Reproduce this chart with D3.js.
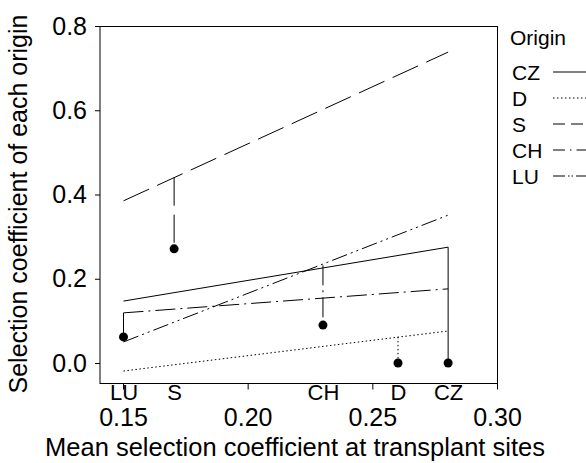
<!DOCTYPE html>
<html lang="en">
<head>
  <meta charset="UTF-8">
  <title>Selection coefficient by origin</title>
  <style>
    body {
      margin: 0;
      background: #fff;
    }
    svg {
      display: block;
      font-family: "Liberation Sans", Arial, sans-serif;
    }
    .axis text {
      font-size: 25px;
      fill: #000;
    }
    .axis.sites text {
      font-size: 22px;
    }
    .axis line {
      stroke: #000;
    }
    .legend text {
      font-size: 21px;
    }
  </style>
</head>
<body>
  <svg width="586" height="463"></svg>
  <script src="https://d3js.org/d3.v7.min.js"></script>
  <script>
    // transplant sites: mean selection coefficient (x) and value of the local origin (y)
    const sites = ["LU", "S", "CH", "D", "CZ"];
    const siteX = [0.1502, 0.1705, 0.2302, 0.2603, 0.2804];
    const siteY = [0.062, 0.271, 0.090, 0.0, 0.0];
    // top of the vertical segment drawn at each site
    const segTop = [0.119, 0.440, 0.232, 0.062, 0.275];
    const segOrigin = ["CZ", "S", "CH", "D", "CZ"];

    // regression lines per origin, value at first and last site
    const origins = ["CZ", "D", "S", "CH", "LU"];
    const lineStart = [0.147, -0.019, 0.385, 0.119, 0.050];
    const lineEnd = [0.275, 0.076, 0.738, 0.176, 0.351];

    const xTicks = [0.15, 0.20, 0.25, 0.30];
    const yTicks = [0.0, 0.2, 0.4, 0.6, 0.8];

    const dash = {
      CZ: null,
      D: "1.5,2.5",
      S: "28,9",
      CH: "20,5,2,5",
      LU: "16,4,2,4,2,4"
    };
    // the legend keys use shorter patterns than the plotted lines
    const legendDash = {
      CZ: null,
      D: "1.5,2.5",
      S: "12,6",
      CH: "12,5,1.5,5",
      LU: "12,3,1.5,2,1.5,3"
    };

    const svg = d3.select("svg");
    const box = { left: 100, right: 497, top: 26, bottom: 383 };

    const x = d3.scaleLinear().domain([0.15, 0.30]).range([123, 497]);
    const y = d3.scaleLinear().domain([0, 0.8]).range([363, 26]);

    // frame
    svg.append("rect")
      .attr("x", box.left)
      .attr("y", box.top + 0.5)
      .attr("width", box.right - box.left + 0.5)
      .attr("height", box.bottom - box.top)
      .attr("fill", "none")
      .attr("stroke", "#000");

    // y axis
    const yAxis = svg.append("g")
      .attr("class", "axis")
      .attr("transform", `translate(${box.left},0)`)
      .call(d3.axisLeft(y).tickValues(yTicks).tickFormat(d3.format(".1f")).tickSize(5).tickPadding(8));
    yAxis.select(".domain").remove();

    // x axis numbers
    const xAxis = svg.append("g")
      .attr("class", "axis")
      .attr("transform", `translate(0,${box.bottom + 0.5})`)
      .call(d3.axisBottom(x).tickValues(xTicks).tickFormat(d3.format(".2f")).tickSize(6).tickPadding(19));
    xAxis.select(".domain").remove();

    // site names under the axis
    const siteAxis = svg.append("g")
      .attr("class", "axis sites")
      .attr("transform", `translate(0,${box.bottom})`)
      .call(d3.axisBottom(x).tickValues(siteX).tickFormat((d, i) => sites[i]).tickSize(0).tickPadding(1));
    siteAxis.select(".domain").remove();

    // axis titles
    svg.append("text")
      .attr("x", 295)
      .attr("y", 456)
      .attr("text-anchor", "middle")
      .attr("font-size", 25.5)
      .text("Mean selection coefficient at transplant sites");

    svg.append("text")
      .attr("transform", "translate(27,204) rotate(-90)")
      .attr("text-anchor", "middle")
      .attr("font-size", 25)
      .text("Selection coefficient of each origin");

    // origin lines
    const x0 = siteX[0], x1 = siteX[siteX.length - 1];
    origins.forEach((o, i) => {
      svg.append("line")
        .attr("x1", x(x0)).attr("y1", y(lineStart[i]))
        .attr("x2", x(x1)).attr("y2", y(lineEnd[i]))
        .attr("stroke", "#000")
        .attr("stroke-width", 1)
        .attr("stroke-dasharray", dash[o]);
    });

    // vertical segments from line down to the site point
    sites.forEach((s, i) => {
      svg.append("line")
        .attr("x1", x(siteX[i])).attr("y1", y(segTop[i]))
        .attr("x2", x(siteX[i])).attr("y2", y(siteY[i]))
        .attr("stroke", "#000")
        .attr("stroke-width", 1)
        .attr("stroke-dasharray", dash[segOrigin[i]]);
    });

    svg.selectAll("circle.pt")
      .data(sites)
      .join("circle")
      .attr("class", "pt")
      .attr("cx", (d, i) => x(siteX[i]))
      .attr("cy", (d, i) => y(siteY[i]))
      .attr("r", 4.5)
      .attr("fill", "#000");

    // legend
    const legend = svg.append("g").attr("class", "legend");
    legend.append("text")
      .attr("x", 510)
      .attr("y", 45)
      .text("Origin");

    origins.forEach((o, i) => {
      const cy = 72 + i * 26;
      legend.append("text")
        .attr("x", 512)
        .attr("y", cy + 7.5)
        .text(o);
      legend.append("line")
        .attr("x1", 553).attr("x2", 592)
        .attr("y1", cy).attr("y2", cy)
        .attr("stroke", "#000")
        .attr("stroke-dasharray", legendDash[o]);
    });
  </script>
</body>
</html>
